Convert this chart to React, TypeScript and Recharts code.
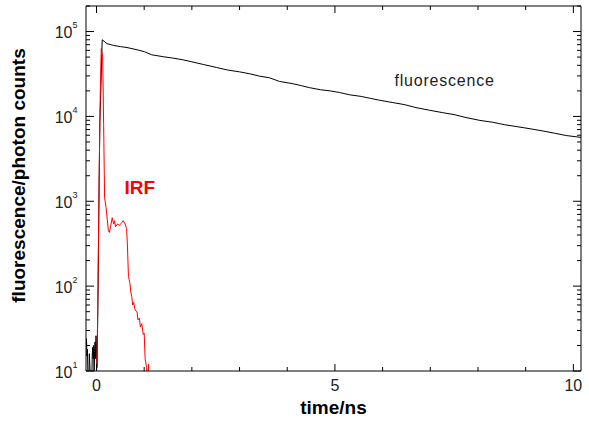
import { LineChart, Line, XAxis, YAxis, ReferenceDot, Label } from 'recharts'

// fluorescence decay (black), time in ns
const fluorTime = [
  -0.22, -0.21, -0.2, -0.19, -0.18, -0.16, -0.15, -0.14, -0.12, -0.1, -0.09, -0.08, -0.07, -0.06, -0.05,
  -0.04, -0.03, -0.02, -0.01, 0.0, 0.01, 0.02, 0.035, 0.05, 0.07, 0.085, 0.12, 0.22, 0.36, 0.5, 0.64,
  0.85, 1.0, 1.16, 1.4, 1.6, 1.81, 2.0, 2.25, 2.52, 2.75, 3.0, 3.21, 3.42, 3.63, 3.84, 4.1, 4.3, 4.47,
  4.7, 4.9, 5.1, 5.3, 5.55, 5.75, 5.94, 6.2, 6.45, 6.7, 6.99, 7.25, 7.5, 7.75, 8.04, 8.3, 8.55, 8.8,
  9.09, 9.35, 9.6, 9.85, 10.16,
]
const fluorCounts = [
  20, 24, 15, 18, 9, 7, 16, 12, 6, 5, 15, 19, 14, 20, 8,
  17, 22, 14, 26, 18, 11, 24, 100, 900, 8500, 16000, 80000, 72000, 68500, 66500, 64800,
  61000, 58000, 53200, 50500, 48700, 46500, 44000, 40800, 37700, 35200, 33500, 31800, 29800, 28500, 25800, 24400, 23000, 21800,
  20600, 20000, 19100, 18000, 17200, 16300, 15500, 14600, 13800, 12700, 11800, 11100, 10500, 9700, 8970, 8550, 8000, 7600,
  7160, 6750, 6350, 5950, 5660,
]

// instrument response function (red)
const irfTime = [
  0.0, 0.02, 0.04, 0.06, 0.08, 0.1, 0.13, 0.15, 0.17, 0.2, 0.25, 0.27, 0.3, 0.33, 0.36, 0.38, 0.4,
  0.44, 0.48, 0.53, 0.56, 0.6, 0.63, 0.65, 0.67, 0.7, 0.72, 0.74, 0.76, 0.78, 0.81, 0.85, 0.87, 0.9,
  0.92, 0.95, 0.98, 1.0, 1.02, 1.05, 1.07, 1.09, 1.11,
]
const irfCounts = [
  8, 30, 300, 3000, 20000, 63000, 50000, 8000, 1100, 850, 450, 430, 520, 640, 540, 590, 500,
  540, 520, 560, 590, 540, 480, 290, 130, 110, 85, 75, 60, 64, 52, 50, 40, 42,
  33, 36, 27, 28, 14, 11, 6, 12, 5,
]

const xTicks = [0, 1, 2, 3, 4, 5, 6, 7, 8, 9, 10]
const xTickLabels = [0, 5, 10]
const yDecades = [10, 100, 1000, 10000, 100000]
const yMantissas = [1, 2, 3, 4, 5, 6, 7, 8, 9]

const yTicks = yDecades.flatMap(d => yMantissas.map(m => m * d)).filter(v => v <= 200000)
const fluorData = fluorTime.map((t, i) => ({ t, v: fluorCounts[i] }))
const irfData = irfTime.map((t, i) => ({ t, v: irfCounts[i] }))

const FONT = '"Liberation Sans", Arial, sans-serif'

const isDecade = (v: number) => Math.abs(Math.log10(v) - Math.round(Math.log10(v))) < 1e-6

function YTick({ x, y, payload, side }: any) {
  const v = payload.value
  const major = isDecade(v)
  const len = major ? 8 : 4
  const dir = side === 'left' ? 1 : -1
  return (
    <g>
      <line x1={x} x2={x + dir * len} y1={y} y2={y} stroke="#000" />
      {side === 'left' && major ? (
        <text x={x - 8.5} y={y + 6.5} textAnchor="end" fontSize={16} fontFamily={FONT} fill="#222">
          10<tspan dy={-10} fontSize={9}>{Math.round(Math.log10(v))}</tspan>
        </text>
      ) : null}
    </g>
  )
}

function XTick({ x, y, payload, side }: any) {
  const v = payload.value
  const major = xTickLabels.includes(v)
  const len = major ? 7 : 4
  const dir = side === 'bottom' ? -1 : 1
  return (
    <g>
      <line x1={x} x2={x} y1={y} y2={y + dir * len} stroke="#000" />
      {side === 'bottom' && major ? (
        <text x={x} y={y + 20} textAnchor="middle" fontSize={16} fontFamily={FONT} fill="#222">{v}</text>
      ) : null}
    </g>
  )
}

function YTitle(props: any) {
  const vb = props.viewBox ?? { x: 0, y: 6, width: 86, height: 365 }
  const cx = vb.x + 25
  const cy = vb.y + vb.height / 2 - 13
  return (
    <text x={cx} y={cy} transform={`rotate(-90 ${cx} ${cy})`} textAnchor="middle" fontSize={19} fontWeight="bold" fontFamily={FONT} fill="#000">
      fluorescence/photon counts
    </text>
  )
}

export default function App() {
  return (
    <div style={{ position: 'absolute', left: 0, top: 0, width: 589, height: 432, background: '#fff' }}>
      <LineChart width={589} height={432} margin={{ top: 5, right: 7, bottom: 0, left: 0 }}>
        <XAxis
          dataKey="t"
          type="number"
          domain={[-0.22, 10.16]}
          allowDataOverflow
          ticks={xTicks}
          interval={0}
          height={61}
          tickSize={0}
          tickMargin={0}
          tickLine={false}
          axisLine={{ stroke: '#000' }}
          tick={(p: any) => <XTick {...p} side="bottom" />}
        >
          <Label value="time/ns" position="insideBottom" offset={18} style={{ fontSize: 19, fontWeight: 'bold', fontFamily: FONT, fill: '#000' }} />
        </XAxis>
        <XAxis
          xAxisId="top"
          orientation="top"
          dataKey="t"
          type="number"
          domain={[-0.22, 10.16]}
          allowDataOverflow
          ticks={xTicks}
          interval={0}
          height={1}
          tickSize={0}
          tickMargin={0}
          tickLine={false}
          axisLine={{ stroke: '#000' }}
          tick={(p: any) => <XTick {...p} side="top" />}
        />
        <YAxis
          type="number"
          scale="log"
          domain={[10, 200000]}
          allowDataOverflow
          ticks={yTicks}
          interval={0}
          width={86}
          tickSize={0}
          tickMargin={0}
          tickLine={false}
          axisLine={{ stroke: '#000' }}
          tick={(p: any) => <YTick {...p} side="left" />}
        >
          <Label content={YTitle} />
        </YAxis>
        <YAxis
          yAxisId="right"
          orientation="right"
          type="number"
          scale="log"
          domain={[10, 200000]}
          allowDataOverflow
          ticks={yTicks}
          interval={0}
          width={1}
          tickSize={0}
          tickMargin={0}
          tickLine={false}
          axisLine={{ stroke: '#000' }}
          tick={(p: any) => <YTick {...p} side="right" />}
        />
        <Line data={fluorData} dataKey="v" type="linear" stroke="#000" strokeWidth={1} dot={false} isAnimationActive={false} />
        <Line data={irfData} dataKey="v" type="linear" stroke="#ff0000" strokeWidth={1} dot={false} isAnimationActive={false} />
        <ReferenceDot x={7.3} y={26300} r={0} fill="none" stroke="none">
          <Label value="fluorescence" position="center" style={{ fontSize: 16, letterSpacing: 0.8, fontFamily: FONT, fill: '#222' }} />
        </ReferenceDot>
        <ReferenceDot x={0.91} y={1450} r={0} fill="none" stroke="none">
          <Label value="IRF" position="center" style={{ fontSize: 19, fontWeight: 'bold', fontFamily: FONT, fill: '#ff0000' }} />
        </ReferenceDot>
      </LineChart>
    </div>
  )
}
